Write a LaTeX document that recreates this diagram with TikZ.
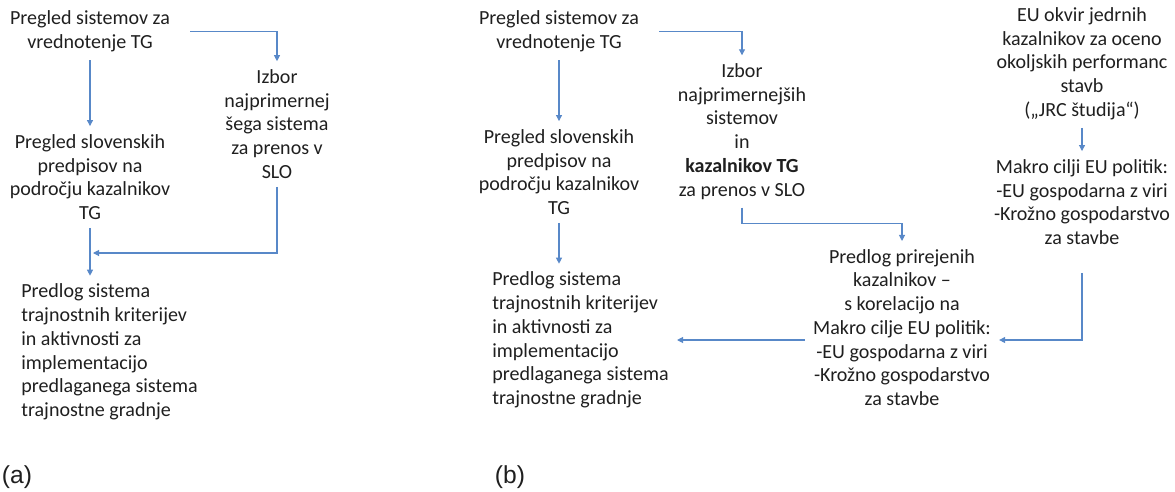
\documentclass[tikz,border=0pt]{standalone}
\usepackage{fontspec}
\setmainfont{Carlito}
\newfontfamily\labfont{Liberation Sans}
\usetikzlibrary{positioning, arrows.meta, calc}
\definecolor{arrblue}{RGB}{88,136,200}

\begin{document}
\begin{tikzpicture}[x=0.02cm, y=-0.02cm,
    font=\fontsize{11.4}{13.5}\selectfont, text=black!88,
    tbox/.style={align=center, inner sep=0.16cm},
    lbox/.style={align=left, inner sep=0.16cm, anchor=west},
    arr/.style={-{Triangle[length=1.2mm, width=1.2mm]}, line width=0.6pt, arrblue},
    sub/.style={font=\labfont\fontsize{14}{16}\selectfont, inner sep=0pt}]
    \useasboundingbox (0,0) rectangle (1175,491);
    % (a)
    \node[tbox] (a1) at (90,31.5) {Pregled sistemov za\\vrednotenje TG};
    \node[tbox] (a2) at (90,177) {Pregled slovenskih\\predpisov na\\področju kazalnikov\\TG};
    \node[tbox] (a3) at (277,124) {Izbor\\najprimernej\\šega sistema\\za prenos v\\SLO};
    \node[lbox] (a4) at (13,352) {Predlog sistema\\trajnostnih kriterijev\\in aktivnosti za\\implementacijo\\predlaganega sistema\\trajnostne gradnje};
    \coordinate (ja) at (93,253);
    \draw[arr] (a1) -- (a2);
    \draw[arr] ($(a1.east)+(12,0)$) -| (a3);
    \draw[arr] (a3.south) |- (ja);
    \draw[arr] (a2.south) -- (a2.south |- a4.north);
    \node[sub] (la) at (17,477) {(a)};
    % (b)
    \node[tbox] (b1) at (559,31.5) {Pregled sistemov za\\vrednotenje TG};
    \node[tbox] (b2) at (559,172) {Pregled slovenskih\\predpisov na\\področju kazalnikov\\TG};
    \node[tbox] (b3) at (742,131.5) {Izbor\\najprimernejših\\sistemov\\in\\\textbf{kazalnikov TG}\\za prenos v SLO};
    \node[lbox] (b4) at (484,340) {Predlog sistema\\trajnostnih kriterijev\\in aktivnosti za\\implementacijo\\predlaganega sistema\\trajnostne gradnje};
    \node[tbox] (b5) at (902,327.5) {Predlog prirejenih\\kazalnikov –\\s korelacijo na\\Makro cilje EU politik:\\-EU gospodarna z viri\\-Krožno gospodarstvo\\za stavbe};
    \node[tbox] (b6) at (1082,63.5) {EU okvir jedrnih\\kazalnikov za oceno\\okoljskih performanc\\stavb\\(„JRC študija“)};
    \node[tbox] (b7) at (1082,202) {Makro cilji EU politik:\\-EU gospodarna z viri\\-Krožno gospodarstvo\\za stavbe};
    \draw[arr] (b1) -- (b2);
    \draw[arr] ($(b1.east)+(12,0)$) -| (b3);
    \draw[arr] (b2.south) -- (b2.south |- b4.north);
    \draw[arr] (b3.south) -- ++(0,16) -| (b5);
    \draw[arr] (b5.west |- b4.east) -- (b4.east);
    \draw[arr] (b6) -- (b7);
    \draw[arr] ($(b7.south)+(0,20)$) |- (b5.east |- b4.east);
    \node[sub] (lb) at (510,477) {(b)};
\end{tikzpicture}
\end{document}
